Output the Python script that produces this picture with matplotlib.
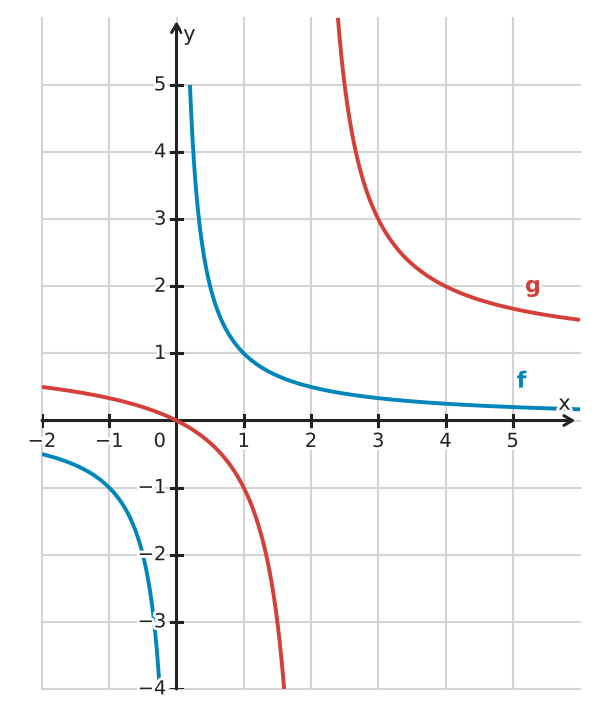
import numpy as np
import matplotlib
matplotlib.use("Agg")
import matplotlib.pyplot as plt
import matplotlib.patheffects as pe

# Data: function definitions
# f(x) = F_NUM / x ; g(x) = x / (x - G_POLE)
F_NUM = 1.0
G_POLE = 2.0
f_pos_range = [0.2, 6.0]
f_neg_range = [-2.0, -0.25]
g_left_range = [-2.0, 1.6]
g_right_range = [2.4, 6.0]
x_ticks = [-2, -1, 1, 2, 3, 4, 5]
y_ticks = [-4, -3, -2, -1, 1, 2, 3, 4, 5]

def f(x):
    return F_NUM / x

def g(x):
    return x / (x - G_POLE)

RED = "#d43f3a"
BLUE = "#0086bb"
AX = "#222222"
GRID = "#d4d4d4"

W, H = 598, 719
fig = plt.figure(figsize=(W / 100, H / 100), dpi=100)
ax = fig.add_axes([42 / W, (H - 689) / H, (580 - 42) / W, (689 - 17.8) / H])
ax.set_xlim(-2, 6)
ax.set_ylim(-4, 6)
ax.axis("off")

# grid
for xv in range(-2, 6):
    ax.plot([xv, xv], [-4, 6], color=GRID, lw=1.5, zorder=0, clip_on=False)
for yv in range(-4, 6):
    ax.plot([-2, 6], [yv, yv], color=GRID, lw=1.5, zorder=0, clip_on=False)

# axes with arrows
ax.annotate("", xy=(5.93, 0), xytext=(-2, 0),
            arrowprops=dict(arrowstyle="->,head_length=0.6,head_width=0.35", color=AX, lw=2.2,
                            shrinkA=0, shrinkB=0), zorder=3)
ax.annotate("", xy=(0, 5.95), xytext=(0, -4),
            arrowprops=dict(arrowstyle="->,head_length=0.6,head_width=0.35", color=AX, lw=2.2,
                            shrinkA=0, shrinkB=0), zorder=3)

stroke = [pe.withStroke(linewidth=4, foreground="white")]
fs = 14
tl = 0.08
for xv in x_ticks:
    ax.plot([xv, xv], [-tl, tl], color=AX, lw=2.2, zorder=3)
    ax.text(xv, -0.17, "\u2212%d" % -xv if xv < 0 else str(xv), ha="center", va="top",
            fontsize=fs, color=AX, path_effects=stroke, zorder=5)
ax.text(-0.25, -0.17, "0", ha="center", va="top", fontsize=fs, color=AX,
        path_effects=stroke, zorder=5)
for yv in y_ticks:
    ax.plot([-tl, tl], [yv, yv], color=AX, lw=2.2, zorder=3)
    ax.text(-0.15, yv, "\u2212%d" % -yv if yv < 0 else str(yv), ha="right", va="center",
            fontsize=fs, color=AX, path_effects=stroke, zorder=5)

ax.text(5.77, 0.1, "x", ha="center", va="bottom", fontsize=fs + 1, color=AX,
        path_effects=stroke, zorder=5)
ax.text(0.1, 5.75, "y", ha="left", va="center", fontsize=fs + 1, color=AX,
        path_effects=stroke, zorder=5)

# curves
lw = 2.8
x1 = np.linspace(*f_pos_range, 600)
x2 = np.linspace(*f_neg_range, 400)
ax.plot(x1, f(x1), color=BLUE, lw=lw, zorder=4, solid_capstyle="butt")
ax.plot(x2, f(x2), color=BLUE, lw=lw, zorder=4, solid_capstyle="butt")
x3 = np.linspace(*g_left_range, 600)
x4 = np.linspace(*g_right_range, 600)
ax.plot(x3, g(x3), color=RED, lw=lw, zorder=4, solid_capstyle="butt")
ax.plot(x4, g(x4), color=RED, lw=lw, zorder=4, solid_capstyle="butt", clip_on=False)

ax.text(5.13, 0.58, "f", ha="center", va="center", fontsize=16, fontweight="bold",
        color=BLUE, path_effects=stroke, zorder=5)
ax.text(5.3, 2.0, "g", ha="center", va="center", fontsize=16, fontweight="bold",
        color=RED, path_effects=stroke, zorder=5)

fig.savefig("out.png", dpi=100, facecolor="white")
